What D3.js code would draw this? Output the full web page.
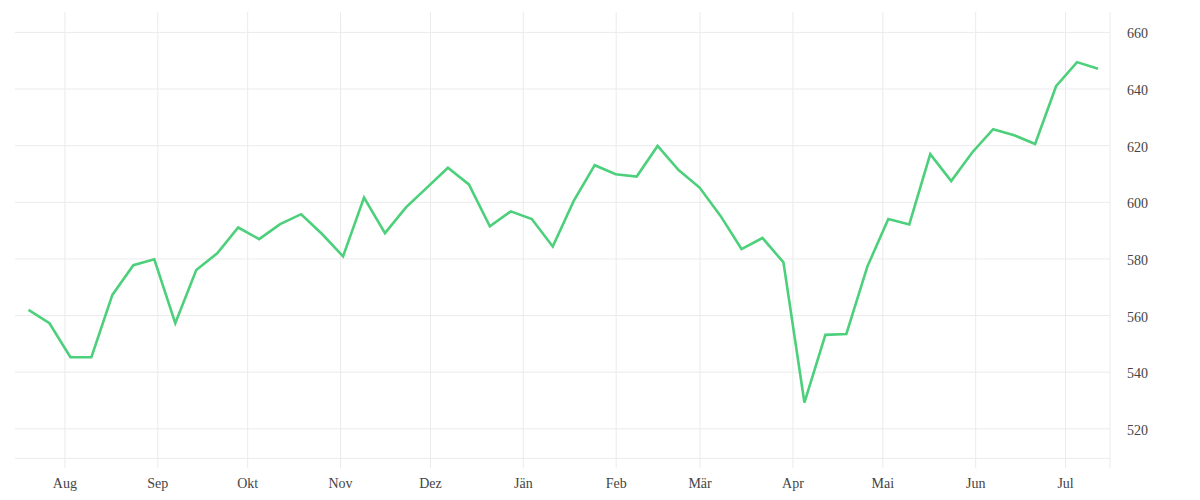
<!doctype html>
<html>
  <head>
    <meta charset="utf-8">
    <script src="https://cdnjs.cloudflare.com/ajax/libs/d3/7.8.5/d3.min.js"></script>
    <style>
      body { margin: 0; background: #fff; }
      svg { display: block; }
      .tick text { font-family: "Liberation Serif", serif; font-size: 14px; fill: #444; }
    </style>
  </head>
  <body>
    <svg id="chart" width="1200" height="500"></svg>
    <script>
        // weekly values
        var dates = [
            "2022-07-20", "2022-07-27", "2022-08-03", "2022-08-10", "2022-08-17", "2022-08-24", "2022-08-31",
            "2022-09-07", "2022-09-14", "2022-09-21", "2022-09-28", "2022-10-05", "2022-10-12", "2022-10-19",
            "2022-10-26", "2022-11-02", "2022-11-09", "2022-11-16", "2022-11-23", "2022-11-30", "2022-12-07",
            "2022-12-14", "2022-12-21", "2022-12-28", "2023-01-04", "2023-01-11", "2023-01-18", "2023-01-25",
            "2023-02-01", "2023-02-08", "2023-02-15", "2023-02-22", "2023-03-01", "2023-03-08", "2023-03-15",
            "2023-03-22", "2023-03-29", "2023-04-05", "2023-04-12", "2023-04-19", "2023-04-26", "2023-05-03",
            "2023-05-10", "2023-05-17", "2023-05-24", "2023-05-31", "2023-06-07", "2023-06-14", "2023-06-21",
            "2023-06-28", "2023-07-05", "2023-07-12"
        ];
        var values = [
            562.0, 557.3, 545.3, 545.3, 567.3, 577.8, 579.9,
            557.3, 576.1, 582.0, 591.1, 587.0, 592.3, 595.8,
            588.8, 580.9, 601.7, 589.1, 598.2, 605.2, 612.2,
            606.3, 591.5, 596.8, 594.1, 584.4, 600.5, 613.1,
            609.9, 609.1, 619.9, 611.4, 605.2, 595.2, 583.5,
            587.4, 578.8, 529.3, 553.2, 553.5, 577.3, 594.1,
            592.2, 617.0, 607.5, 617.6, 625.8, 623.7, 620.6,
            641.0, 649.5, 647.2
        ];
        var yTicks = [520, 540, 560, 580, 600, 620, 640, 660];
        var monthNames = ["Jän", "Feb", "Mär", "Apr", "Mai", "Jun", "Jul", "Aug", "Sep", "Okt", "Nov", "Dez"];

        var parse = d3.timeParse("%Y-%m-%d");
        var data = dates.map((d, i) => ({ date: parse(d), value: values[i] }));

        var svg = d3.select("#chart");
        var plotLeft = 15, plotRight = 1110, plotTop = 12, plotBottom = 458.3;

        var x = d3.scaleTime()
            .domain([new Date(2022, 6, 15, 12), new Date(2023, 6, 16, 0)])
            .range([plotLeft, plotRight]);

        var y = d3.scaleLinear()
            .domain([509.6, 667.2])
            .range([plotBottom, plotTop]);

        // horizontal grid
        svg.append("g")
            .selectAll("line")
            .data(yTicks)
            .enter()
            .append("line")
                .attr("x1", plotLeft)
                .attr("x2", plotRight)
                .attr("y1", d => y(d))
                .attr("y2", d => y(d))
                .style("stroke", "#ebebeb")
                .style("stroke-width", 1);

        // bottom line
        svg.append("line")
            .attr("x1", plotLeft).attr("x2", plotRight)
            .attr("y1", plotBottom).attr("y2", plotBottom)
            .style("stroke", "#ebebeb");

        // x axis, month ticks running up as grid
        var xAxis = d3.axisBottom(x)
            .ticks(d3.timeMonth.every(1))
            .tickSize(-(plotBottom + 10 - plotTop))
            .tickPadding(10)
            .tickFormat(d => monthNames[d.getMonth()]);

        var gx = svg.append("g")
            .attr("transform", "translate(0," + (plotBottom + 10) + ")")
            .call(xAxis);
        gx.select(".domain").remove();
        gx.selectAll(".tick line").style("stroke", "#ebebeb");

        // right y axis
        var yAxis = d3.axisRight(y)
            .tickValues(yTicks)
            .tickSize(0)
            .tickPadding(17);

        var gy = svg.append("g")
            .attr("transform", "translate(" + plotRight + ",0)")
            .call(yAxis);
        gy.select(".domain").remove();
        gy.selectAll(".tick text").attr("dy", "0.4em");

        svg.append("line")
            .attr("x1", plotRight).attr("x2", plotRight)
            .attr("y1", plotTop).attr("y2", plotBottom + 10)
            .style("stroke", "#ebebeb");

        var line = d3.line()
            .x(d => x(d.date))
            .y(d => y(d.value));

        svg.append("path")
            .datum(data)
            .attr("d", line)
            .style("fill", "none")
            .style("stroke", "#4cd07b")
            .style("stroke-width", 2.6)
            .style("stroke-linejoin", "miter");
    </script>
  </body>
</html>
